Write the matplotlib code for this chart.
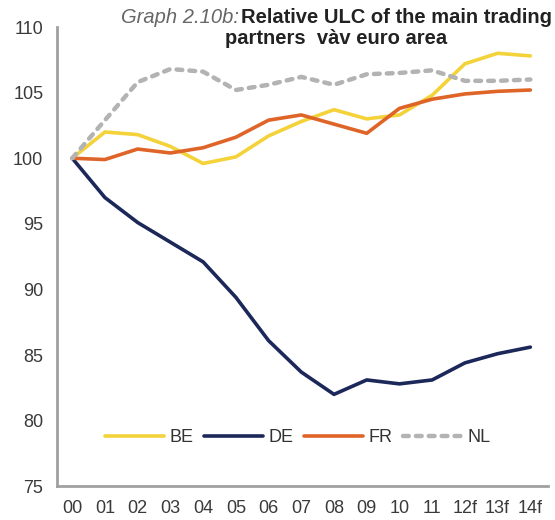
import matplotlib
matplotlib.use("Agg")
import matplotlib.pyplot as plt

plt.rcParams['font.family'] = ['Liberation Sans', 'DejaVu Sans']

years = ["00", "01", "02", "03", "04", "05", "06", "07", "08", "09", "10", "11", "12f", "13f", "14f"]
be = [100.0, 102.0, 101.8, 100.9, 99.6, 100.1, 101.7, 102.8, 103.7, 103.0, 103.3, 104.8, 107.2, 108.0, 107.8]
de = [100.0, 97.0, 95.1, 93.6, 92.1, 89.4, 86.1, 83.7, 82.0, 83.1, 82.8, 83.1, 84.4, 85.1, 85.6]
fr = [100.0, 99.9, 100.7, 100.4, 100.8, 101.6, 102.9, 103.3, 102.6, 101.9, 103.8, 104.5, 104.9, 105.1, 105.2]
nl = [100.0, 102.9, 105.8, 106.8, 106.6, 105.2, 105.6, 106.2, 105.6, 106.4, 106.5, 106.7, 105.9, 105.9, 106.0]

fig = plt.figure(figsize=(5.55, 5.2), dpi=100)
ax = fig.add_axes([0.103, 0.065, 0.885, 0.883])

x = list(range(len(years)))
ax.plot(x, be, color='#F3D23A', lw=2.6, label='BE', solid_capstyle='round', solid_joinstyle='round')
ax.plot(x, de, color='#1C2859', lw=2.6, label='DE', solid_capstyle='round', solid_joinstyle='round')
ax.plot(x, fr, color='#DF6428', lw=2.6, label='FR', solid_capstyle='round', solid_joinstyle='round')
ax.plot(x, nl, color='#B3B3B3', lw=3.2, label='NL', linestyle=(0, (1.3, 1.6)),
        dash_capstyle='round', solid_joinstyle='round')

ax.set_xlim(-0.46, 14.55)
ax.set_ylim(75, 110)
ax.set_yticks([75, 80, 85, 90, 95, 100, 105, 110])
ax.set_xticks(x)
ax.set_xticklabels(years)
ax.tick_params(length=0, labelsize=13, colors='#3a3a3a', pad=10)
ax.tick_params(axis='y', pad=10)
for s in ['top', 'right']:
    ax.spines[s].set_visible(False)
for s in ['left', 'bottom']:
    ax.spines[s].set_color('#A0A0A0')
    ax.spines[s].set_linewidth(2)

leg = ax.legend(loc='center', bbox_to_anchor=(0.49, 0.105), ncol=4, frameon=False,
                fontsize=13, handlelength=3.3, handletextpad=0.3, columnspacing=0.55)
for t in leg.get_texts():
    t.set_color('#333333')

t1 = fig.text(0.431, 0.966, "Graph 2.10b:", fontsize=14.5, style='italic', color='#666666',
              ha='right', va='center')
t2 = fig.text(0.435, 0.966, "Relative ULC of the main trading", fontsize=14.5, fontweight='bold',
              color='#222222', ha='left', va='center')
t3 = fig.text(0.606, 0.926, "partners  vàv euro area", fontsize=14.5, fontweight='bold',
              color='#222222', ha='center', va='center')

fig.savefig("out.png", dpi=100)
